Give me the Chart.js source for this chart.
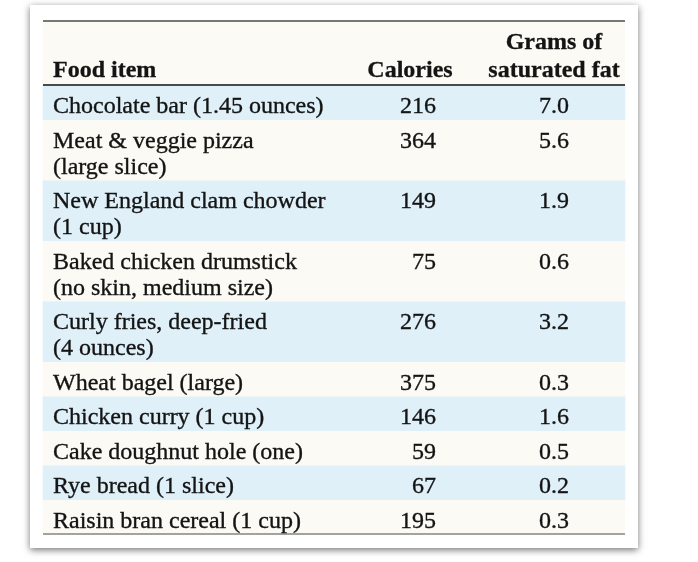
<!DOCTYPE html>
<html><head><meta charset="utf-8">
<script src="https://cdn.jsdelivr.net/npm/chart.js@4.4.1/dist/chart.umd.min.js"></script>
<style>html,body{margin:0;padding:0;background:#fff;overflow:hidden}#wrap{width:698px;height:562px;position:relative}</style>
</head><body><div id="wrap"><canvas id="c" width="698" height="562"></canvas></div>
<script>
// ---- data ----
const foodItems = [
  ["Chocolate bar (1.45 ounces)"],
  ["Meat & veggie pizza", "(large slice)"],
  ["New England clam chowder", "(1 cup)"],
  ["Baked chicken drumstick", "(no skin, medium size)"],
  ["Curly fries, deep-fried", "(4 ounces)"],
  ["Wheat bagel (large)"],
  ["Chicken curry (1 cup)"],
  ["Cake doughnut hole (one)"],
  ["Rye bread (1 slice)"],
  ["Raisin bran cereal (1 cup)"]
];
const calories = [216, 364, 149, 75, 276, 375, 146, 59, 67, 195];
const satFat = [7.0, 5.6, 1.9, 0.6, 3.2, 0.3, 1.6, 0.5, 0.2, 0.3];
const columnHeaders = [["Food item"], ["Calories"], ["Grams of", "saturated fat"]];

// ---- layout (in scale units) ----
const W = 698, H = 562;
const card = {x0: 30, x1: 638, y0: 5, y1: 548};
const table = {x0: 43, x1: 625, top: 21, headBottom: 85};
const lineH = 26, rowPad = 8.5, firstBase = 28;
const colFoodX = 53, colCalRight = 436, colCalHeadCenter = 410, colFatCenter = 554;
const BLUE = '#dff0f9', CREAM = '#fbfaf4', RULE = '#4a4a4a', INK = '#141414';
const FONT = "'Liberation Serif','Times New Roman',serif";
const FS = 24;

// row geometry from line counts
const rows = [];
let yy = table.headBottom;
foodItems.forEach((f, i) => {
  const h = rowPad + lineH * f.length;
  rows.push({top: yy, h: h});
  yy += h;
});
const tableBottom = yy;

// one floating bar per row stripe (plus header band)
const datasets = [{
  label: 'header',
  data: [{y: (table.top + table.headBottom) / 2, x: [table.x0, table.x1]}],
  backgroundColor: CREAM,
  barThickness: table.headBottom - table.top,
  grouped: false
}];
rows.forEach((r, i) => {
  datasets.push({
    label: foodItems[i].join(' '),
    data: [{y: r.top + r.h / 2, x: [table.x0, table.x1]}],
    backgroundColor: i % 2 === 0 ? BLUE : CREAM,
    barThickness: r.h + 0.5,
    grouped: false
  });
});

const cardPlugin = {
  id: 'card',
  beforeDraw(chart) {
    const {ctx, scales: {x, y}} = chart;
    ctx.save();
    ctx.fillStyle = '#fff';
    ctx.fillRect(0, 0, W, H);
    const px0 = x.getPixelForValue(card.x0), px1 = x.getPixelForValue(card.x1);
    const py0 = y.getPixelForValue(card.y0), py1 = y.getPixelForValue(card.y1);
    ctx.shadowColor = 'rgba(0,0,0,0.55)';
    ctx.shadowBlur = 7;
    ctx.shadowOffsetY = 2;
    ctx.fillStyle = '#ffffff';
    ctx.fillRect(px0, py0, px1 - px0, py1 - py0);
    ctx.restore();
  }
};

function inkText(ctx, t, px, py) {
  ctx.fillText(t, px, py);
  ctx.strokeText(t, px, py);
}

const tablePlugin = {
  id: 'tableText',
  afterDatasetsDraw(chart) {
    const {ctx, scales: {x, y}} = chart;
    const X = v => x.getPixelForValue(v), Y = v => y.getPixelForValue(v);
    ctx.save();
    // rules
    ctx.strokeStyle = RULE;
    const rule = (yv, lw) => {
      ctx.lineWidth = lw;
      ctx.beginPath(); ctx.moveTo(X(table.x0), Y(yv)); ctx.lineTo(X(table.x1), Y(yv)); ctx.stroke();
    };
    rule(table.top, 1.6);
    rule(table.headBottom, 2);
    rule(tableBottom, 1.2);
    // headers
    ctx.fillStyle = INK;
    ctx.strokeStyle = INK;
    ctx.lineWidth = 0.3;
    ctx.textBaseline = 'alphabetic';
    ctx.font = 'bold ' + FS + 'px ' + FONT;
    const headBase = table.headBottom - 8.5;
    ctx.textAlign = 'left';
    inkText(ctx, columnHeaders[0][0], X(colFoodX), Y(headBase));
    ctx.textAlign = 'center';
    inkText(ctx, columnHeaders[1][0], X(colCalHeadCenter), Y(headBase));
    const fh = columnHeaders[2];
    fh.forEach((t, k) => inkText(ctx, t, X(colFatCenter), Y(headBase - (fh.length - 1 - k) * 28)));
    // body
    ctx.font = FS + 'px ' + FONT;
    ctx.lineWidth = 0.35;
    rows.forEach((r, i) => {
      const base = r.top + firstBase;
      ctx.textAlign = 'left';
      foodItems[i].forEach((t, k) => inkText(ctx, t, X(colFoodX), Y(base + k * lineH)));
      ctx.textAlign = 'right';
      inkText(ctx, String(calories[i]), X(colCalRight), Y(base));
      ctx.textAlign = 'center';
      inkText(ctx, satFat[i].toFixed(1), X(colFatCenter), Y(base));
    });
    ctx.restore();
  }
};

new Chart(document.getElementById('c'), {
  type: 'bar',
  data: {datasets: datasets},
  options: {
    indexAxis: 'y',
    responsive: false,
    animation: false,
    layout: {padding: 0},
    scales: {
      x: {type: 'linear', min: 0, max: W, display: false, offset: false},
      y: {type: 'linear', min: 0, max: H, reverse: true, display: false, offset: false}
    },
    plugins: {legend: {display: false}, tooltip: {enabled: false}},
    elements: {bar: {borderWidth: 0}}
  },
  plugins: [cardPlugin, tablePlugin]
});
</script>
</body></html>
